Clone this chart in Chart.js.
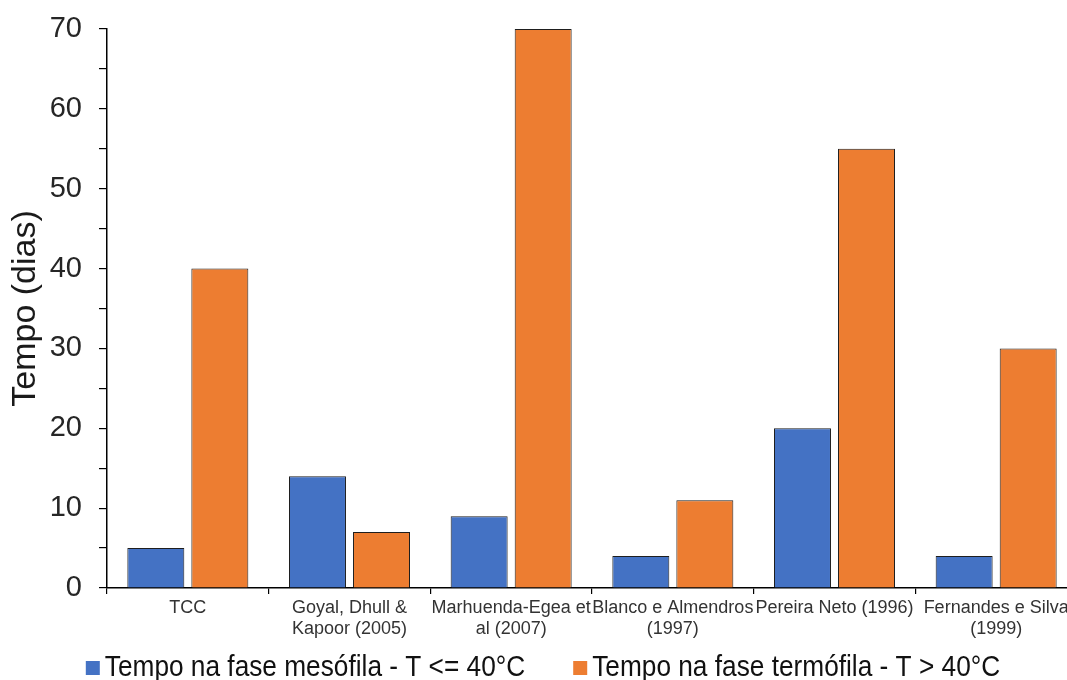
<!DOCTYPE html>
<html>
<head>
<meta charset="utf-8">
<script src="https://cdn.jsdelivr.net/npm/chart.js@4.4.1/dist/chart.umd.min.js"></script>
<style>
  html, body { margin: 0; padding: 0; background: #fff; overflow: hidden; }
  #wrap { width: 1067px; height: 680px; overflow: hidden; position: relative; }
  canvas { display: block; }
</style>
</head>
<body>
<div id="wrap"><canvas id="chart" width="1080" height="680"></canvas></div>
<script>
// Composting studies compared
const categories = [
  'TCC',
  ['Goyal, Dhull &', 'Kapoor (2005)'],
  ['Marhuenda-Egea et', 'al (2007)'],
  ['Blanco e Almendros', '(1997)'],
  'Pereira Neto (1996)',
  ['Fernandes e Silva', '(1999)']
];

// Days spent in each phase
const mesofila = [5, 14, 9, 4, 20, 4];
const termofila = [40, 7, 70, 11, 55, 30];

const seriesNames = [
  'Tempo na fase mesófila - T <= 40°C',
  'Tempo na fase termófila - T > 40°C'
];

const yTitle = 'Tempo (dias)';

Chart.defaults.font.family = '"Liberation Sans", Arial, sans-serif';

// Legend row drawn under the axis, condensed text
const bottomLegend = {
  id: 'bottomLegend',
  afterDraw(chart) {
    const ctx = chart.ctx;
    const squeeze = 0.905, box = 14, gap = 5, spacing = 48, baseline = 676, center = 543;
    ctx.save();
    ctx.font = '29px "Liberation Sans", Arial, sans-serif';
    const items = chart.data.datasets.map(ds => ({
      label: ds.label,
      color: ds.backgroundColor,
      w: box + gap + ctx.measureText(ds.label).width * squeeze
    }));
    const total = items.reduce((s, it) => s + it.w, 0) + spacing * (items.length - 1);
    let x = center - total / 2;
    items.forEach(it => {
      ctx.fillStyle = it.color;
      ctx.fillRect(x, baseline - 15, box, box);
      ctx.save();
      ctx.translate(x + box + gap, baseline);
      ctx.scale(squeeze, 1);
      ctx.fillStyle = '#111';
      ctx.textBaseline = 'alphabetic';
      ctx.fillText(it.label, 0, 0);
      ctx.restore();
      x += it.w + spacing;
    });
    ctx.restore();
  }
};

new Chart(document.getElementById('chart'), {
  type: 'bar',
  data: {
    labels: categories,
    datasets: [
      {
        label: seriesNames[0],
        data: mesofila,
        backgroundColor: '#4472C4',
        borderColor: '#1e1e1e',
        borderWidth: 1,
        categoryPercentage: 0.792,
        barPercentage: 0.89
      },
      {
        label: seriesNames[1],
        data: termofila,
        backgroundColor: '#ED7D31',
        borderColor: '#1e1e1e',
        borderWidth: 1,
        categoryPercentage: 0.792,
        barPercentage: 0.89
      }
    ]
  },
  options: {
    responsive: false,
    animation: false,
    devicePixelRatio: 1,
    layout: { padding: { top: 29, right: 3, bottom: 0, left: 0 } },
    plugins: {
      legend: { display: false },
      tooltip: { enabled: false }
    },
    scales: {
      x: {
        grid: { display: true, drawOnChartArea: false, tickLength: 6, color: '#000', lineWidth: 1.2, offset: true },
        border: { color: '#000', width: 1.5 },
        ticks: {
          font: { size: 18, lineHeight: 1.15 },
          color: '#333',
          padding: 4,
          maxRotation: 0,
          autoSkip: false
        },
        afterFit(scale) { scale.height = 92; }
      },
      y: {
        min: 0,
        max: 70,
        ticks: {
          stepSize: 5,
          callback: v => (v % 10 === 0 ? v : ''),
          font: { size: 29 },
          color: '#262626',
          padding: 17
        },
        grid: { drawOnChartArea: false, tickLength: 8, color: '#000', lineWidth: 1.2 },
        border: { color: '#000', width: 1.5 },
        title: {
          display: true,
          text: yTitle,
          font: { size: 34 },
          color: '#1a1a1a',
          padding: { top: 5, bottom: 0 }
        },
        afterFit(scale) {
          scale.width = 107;
          scale.paddingTop = 0;
          scale.paddingBottom = 0;
        }
      }
    }
  },
  plugins: [bottomLegend]
});
</script>
</body>
</html>
